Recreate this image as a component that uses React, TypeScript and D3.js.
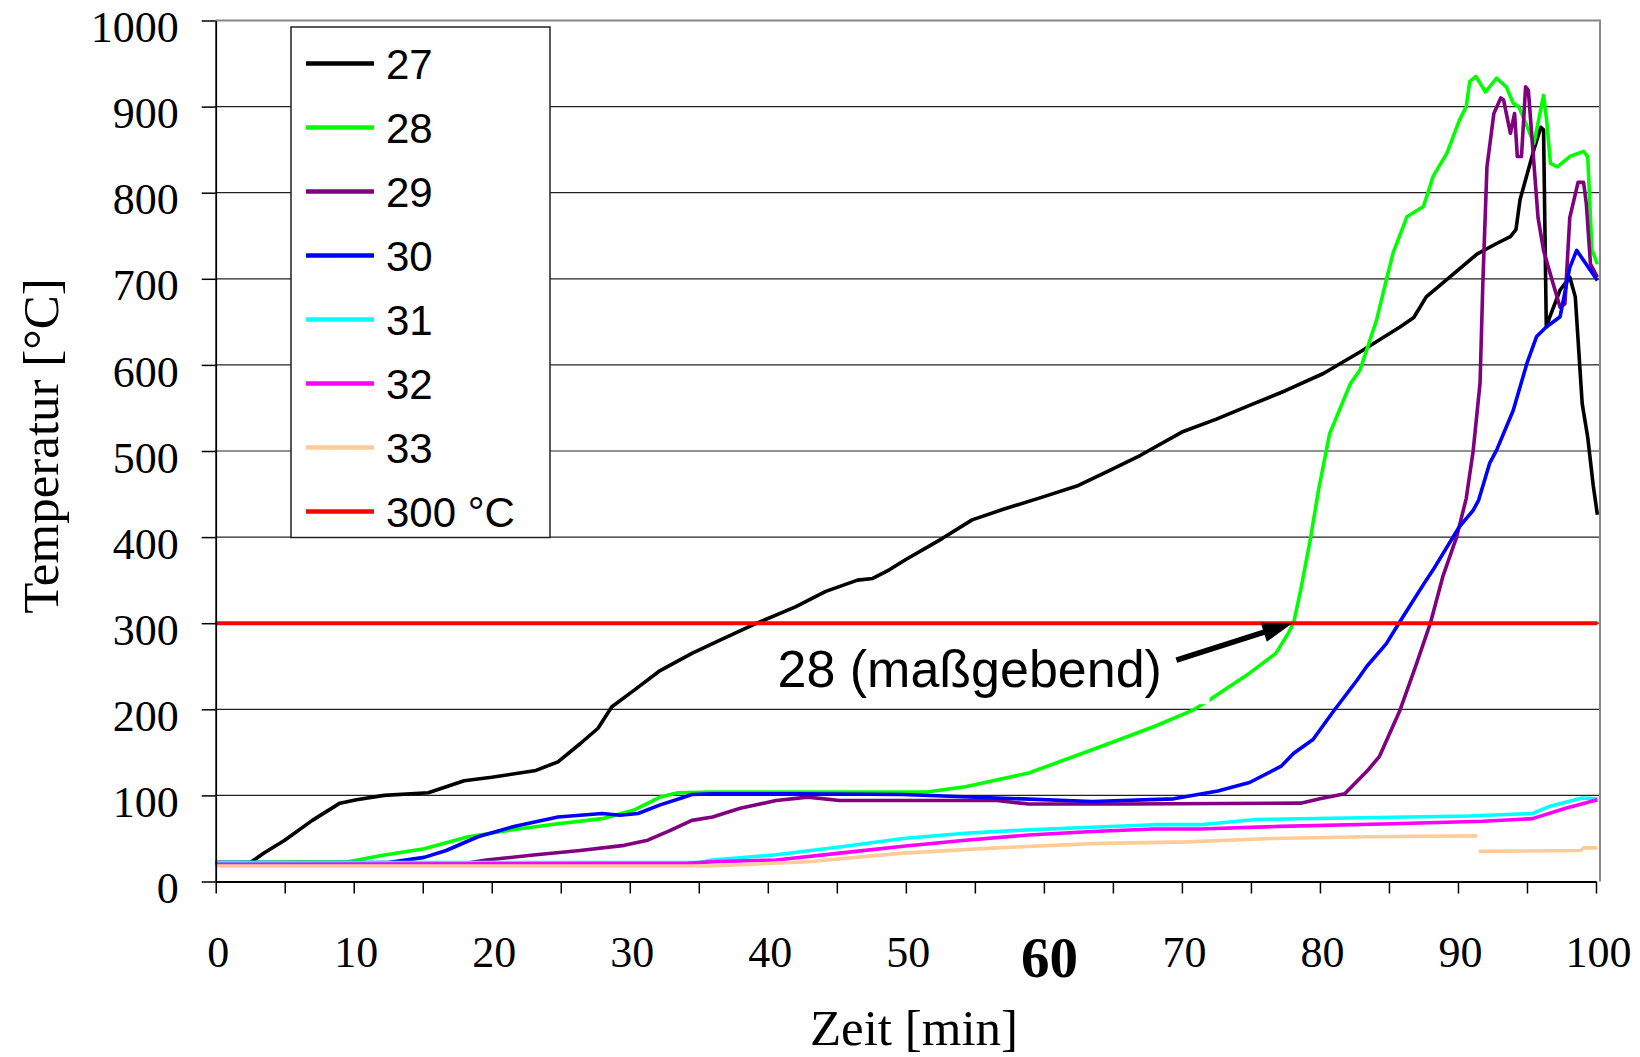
import React, { useEffect, useRef } from "react";
import * as d3 from "d3";

// time [min], temperature [°C]
const s27 = [[0,22],[2,22],[2.5,22],[3.5,33],[5,48],[7,71],[9,91],[10.2,95],[12.2,100],[15.4,103],[18,117],[20,121],[23.2,129],[24.8,139],[26.4,160],[27.7,178],[28.7,203],[30.3,222],[32.2,245],[34.5,265],[36.5,280],[39.2,300],[42,319],[44.2,337],[46.5,350],[47.6,352],[48.8,362],[50,374],[52.6,398],[54.8,420],[57,432],[60,447],[62.5,460],[64.7,477],[67,495],[70,522],[72.5,537],[74.9,553],[77.5,570],[80.25,590],[82.9,615],[85.8,644],[86.8,655],[87.7,679],[89.4,702],[91.4,729],[92.8,741],[93.8,749],[94.2,757],[94.5,792],[95.5,850],[96,876],[96.2,873],[96.35,700],[96.4,644],[96.66,656],[97.4,687],[98.1,702],[98.5,679],[99,555],[99.4,516],[99.8,460],[100.1,426]];
const s28 = [[0,22],[9.6,23],[11.9,30],[15.1,38],[18.3,52],[21.5,60],[24.8,67],[28,73],[30.3,83],[32.2,98],[33.5,103],[36,104],[45,104],[51.5,104],[54.3,110],[58.9,126],[63.5,153],[68,180],[70.8,199],[72.2,213],[74.9,242],[76.8,265],[77.7,288],[78.1,301],[78.6,338],[79.3,397],[79.9,455],[80.7,520],[82.2,578],[82.9,594],[84.1,652],[84.8,698],[85.3,730],[86.3,772],[87.5,784],[88.2,819],[89.2,846],[90.1,884],[90.6,900],[90.85,929],[91.3,935],[92,917],[92.8,933],[93.5,923],[94,904],[94.4,900],[95,877],[95.5,857],[96.2,913],[96.4,888],[96.7,834],[97.2,830],[98.1,842],[99.1,848],[99.4,842],[99.7,734],[100.1,717]];
const s29 = [[0,21],[18,21],[19.6,25],[23.2,31],[26.4,36],[29.6,42],[31.3,48],[32.9,59],[34.5,71],[36,75],[38,85],[40.6,94],[42.9,98],[45.2,94],[56.6,94],[58.9,90],[65.8,90],[78.6,91],[80,96],[81.8,102],[83.4,128],[84.3,145],[85.8,199],[87,253],[88,300],[88.9,354],[89.9,400],[90.6,445],[91.1,500],[91.6,579],[91.8,694],[92.1,830],[92.6,892],[93.1,910],[93.3,908],[93.8,869],[94.1,892],[94.3,842],[94.6,842],[94.9,923],[95.1,919],[95.8,771],[96.2,733],[96.9,694],[97.4,667],[97.75,671],[98.1,771],[98.7,812],[99.1,812],[99.3,787],[99.6,717],[100.1,702]];
const s30 = [[0,22],[12.5,22],[15.1,28],[16.7,36],[19,52],[21.6,64],[24.8,75],[28,79],[29.3,77],[30.6,79],[32.2,89],[33.75,97],[34.5,101],[36,102],[42,102],[49.8,101],[56.6,97],[63.5,93],[69.4,96],[72.6,105],[74.9,115],[77.2,134],[78.1,149],[79.5,165],[80.9,196],[82.7,234],[83.4,250],[84.8,276],[85.8,302],[87.7,350],[88.2,362],[90.1,412],[91.1,431],[91.5,443],[92.3,486],[92.8,501],[94,547],[95,602],[95.7,633],[96.4,644],[97.4,656],[98.1,713],[98.6,733],[100.1,698]];
const s31 = [[0,22],[35,22],[36,25],[40.6,31],[45.2,40],[49.8,50],[54.3,56],[58.9,60],[63.5,63],[68,66],[71.3,66],[75.4,72],[83.1,74],[90.8,76],[95.4,79],[96.6,87],[99,97],[100.1,96]];
const s32 = [[0,20],[34.2,21],[36,23],[40.6,25],[45.2,33],[49.8,41],[54.3,48],[58.9,54],[63.5,58],[68,61],[71.3,61],[77.1,64],[85.3,67],[91.8,70],[95.4,73],[97.8,85],[100.1,95]];
const s33 = [[0,18],[36,18],[42.9,23],[49.8,33],[56.6,39],[63.5,44],[70.4,46],[76.6,50],[83.4,52],[91.4,53],[91.45,null],[91.5,35],[98.9,36],[99.1,39],[100.1,39]];
const limit = [[0,300],[100.1,300]];

const seriesNames = ["27", "28", "29", "30", "31", "32", "33", "300 °C"];
const seriesColors = ["#000000", "#00ff00", "#800080", "#0000ff", "#00ffff", "#ff00ff", "#ffcc99", "#ff0000"];
const seriesData = [s27, s28, s29, s30, s31, s32, s33, limit];

const yTicks = [0, 100, 200, 300, 400, 500, 600, 700, 800, 900, 1000];
const xTicks = [0, 5, 10, 15, 20, 25, 30, 35, 40, 45, 50, 55, 60, 65, 70, 75, 80, 85, 90, 95, 100];
const xLabels = [0, 10, 20, 30, 40, 50, 60, 70, 80, 90, 100];

const annotationText = "28 (maßgebend)";
const annotationAt = [40.7, 226];
const arrowFrom = [69.6, 257];
const arrowTo = [78.0, 300];
const annotationBox = [39.0, 72.0, 206, 290];

export default function App() {
  const ref = useRef<SVGSVGElement>(null);

  useEffect(() => {
    const svg = d3.select(ref.current);
    svg.selectAll("*").remove();
    const W = 1640, H = 1057;
    const x = d3.scaleLinear().domain([0, 100]).range([215.7, 1596]);
    const y = d3.scaleLinear().domain([0, 1000]).range([881.5, 20.5]);
    const right = 1600;
    const serif = "'Liberation Serif', 'Times New Roman', serif";
    const sans = "'Liberation Sans', Arial, sans-serif";

    svg.append("rect").attr("width", W).attr("height", H).attr("fill", "#fff");

    // grid
    svg.append("g").selectAll("line").data(yTicks.filter((d) => d > 0 && d < 1000)).join("line")
      .attr("x1", x(0)).attr("x2", right)
      .attr("y1", (d) => y(d)).attr("y2", (d) => y(d))
      .attr("stroke", "#222").attr("stroke-width", 1.2);

    svg.append("path")
      .attr("d", `M${x(0)},${y(1000)}H${right}V${y(0)}`)
      .attr("fill", "none").attr("stroke", "#888").attr("stroke-width", 2);

    // series
    const line = d3.line<any>()
      .defined((d) => d[1] != null)
      .x((d) => x(d[0])).y((d) => y(d[1]));
    svg.append("g").selectAll("path").data(seriesData).join("path")
      .attr("d", (d) => line(d))
      .attr("fill", "none")
      .attr("stroke", (_, i) => seriesColors[i])
      .attr("stroke-width", (_, i) => (i === 7 ? 4 : 3.6))
      .attr("stroke-linejoin", "round");

    // annotation
    svg.append("rect")
      .attr("x", x(annotationBox[0])).attr("width", x(annotationBox[1]) - x(annotationBox[0]))
      .attr("y", y(annotationBox[3])).attr("height", y(annotationBox[2]) - y(annotationBox[3]))
      .attr("fill", "#fff");
    svg.append("text")
      .attr("x", x(annotationAt[0])).attr("y", y(annotationAt[1]))
      .attr("font-family", sans).attr("font-size", 52)
      .text(annotationText);
    const x0 = x(arrowFrom[0]), y0 = y(arrowFrom[1]);
    const x1 = x(arrowTo[0]), y1 = y(arrowTo[1]);
    const len = Math.hypot(x1 - x0, y1 - y0);
    const ux = (x1 - x0) / len, uy = (y1 - y0) / len;
    const hl = 30, hw = 10;
    const bx = x1 - ux * hl, by = y1 - uy * hl;
    svg.append("line")
      .attr("x1", x0).attr("y1", y0).attr("x2", bx + ux * 2).attr("y2", by + uy * 2)
      .attr("stroke", "#000").attr("stroke-width", 5.5);
    svg.append("path")
      .attr("d", `M${x1},${y1}L${bx - uy * hw},${by + ux * hw}L${bx + uy * hw},${by - ux * hw}Z`)
      .attr("fill", "#000");

    // axes
    const yAxis = svg.append("g").attr("transform", `translate(${x(0)},0)`)
      .call(d3.axisLeft(y).tickValues(yTicks).tickSize(14).tickSizeOuter(0).tickPadding(23)
        .tickFormat((d: any) => String(d)));
    yAxis.selectAll("text").attr("font-family", serif).attr("font-size", 44).attr("dy", "0.48em").attr("fill", "#000");

    const xAxis = svg.append("g").attr("transform", `translate(0,${y(0)})`)
      .call(d3.axisBottom(x).tickValues(xTicks).tickSize(12).tickSizeOuter(0)
        .tickFormat((d: any) => (xLabels.includes(d) ? String(d) : "")));
    xAxis.selectAll("text")
      .attr("font-family", serif).attr("font-size", (d: any) => (d === 60 ? 57 : 44))
      .attr("font-weight", (d: any) => (d === 60 ? "bold" : "normal"))
      .attr("y", (d: any) => (d === 60 ? 95.5 : 85.5)).attr("dy", 0)
      .attr("dx", (d: any) => (d === 60 ? 5 : 2)).attr("fill", "#000");
    svg.selectAll(".domain").attr("stroke", "#000").attr("stroke-width", 1.8);
    svg.selectAll(".tick line").attr("stroke", "#000").attr("stroke-width", 1.5);

    // axis titles
    svg.append("text")
      .attr("transform", `translate(58,${446}) rotate(-90)`)
      .attr("text-anchor", "middle")
      .attr("font-family", serif).attr("font-size", 51)
      .text("Temperatur [°C]");
    svg.append("text")
      .attr("x", 914).attr("y", 1045)
      .attr("text-anchor", "middle")
      .attr("font-family", serif).attr("font-size", 51)
      .text("Zeit [min]");

    // legend
    const lg = svg.append("g");
    lg.append("rect").attr("x", 291).attr("y", 27).attr("width", 259).attr("height", 510.5)
      .attr("fill", "#fff").attr("stroke", "#222").attr("stroke-width", 1.5);
    const items = lg.selectAll("g.item").data(seriesNames).join("g")
      .attr("transform", (_, i) => `translate(306,${63.6 + i * 64})`);
    items.append("line").attr("x1", 0).attr("x2", 68)
      .attr("stroke", (_, i) => seriesColors[i]).attr("stroke-width", 4.5);
    items.append("text").attr("x", 80).attr("y", 15)
      .attr("font-family", sans).attr("font-size", 42)
      .text((d) => d);
  }, []);

  return <svg ref={ref} width={1640} height={1057} style={{ position: "absolute", left: 0, top: 0 }} />;
}
